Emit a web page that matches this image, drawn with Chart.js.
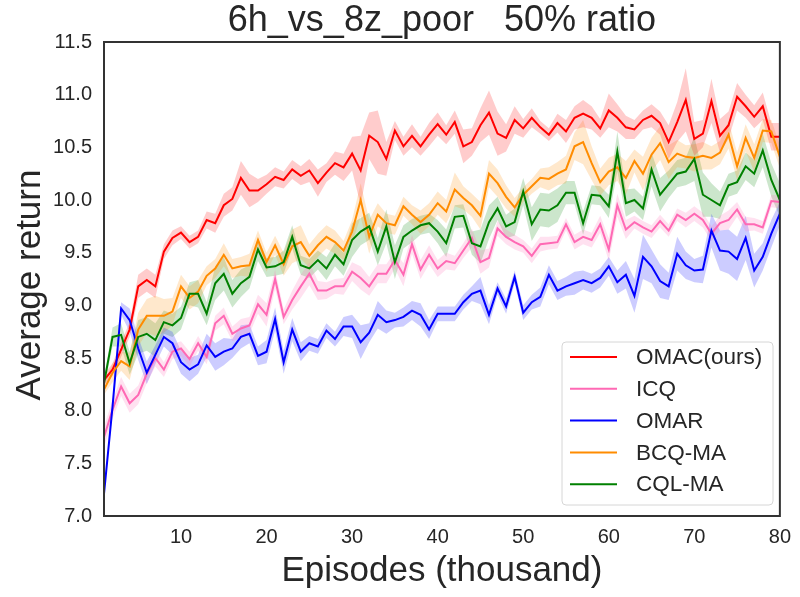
<!DOCTYPE html>
<html>
<head>
<meta charset="utf-8">
<script src="https://cdn.jsdelivr.net/npm/chart.js@4.4.1/dist/chart.umd.min.js"></script>
<style>
  body { margin: 0; background: #fff; }
  canvas { display: block; }
</style>
</head>
<body>
<canvas id="myChart" width="800" height="597"></canvas>
<script>
const episodes = [1, 2, 3, 4, 5, 6, 7, 8, 9, 10, 11, 12, 13, 14, 15, 16, 17, 18, 19, 20,
  21, 22, 23, 24, 25, 26, 27, 28, 29, 30, 31, 32, 33, 34, 35, 36, 37, 38, 39, 40,
  41, 42, 43, 44, 45, 46, 47, 48, 49, 50, 51, 52, 53, 54, 55, 56, 57, 58, 59, 60,
  61, 62, 63, 64, 65, 66, 67, 68, 69, 70, 71, 72, 73, 74, 75, 76, 77, 78, 79, 80]
const xTicks = [10, 20, 30, 40, 50, 60, 70, 80]
const yTicks = [7.0, 7.5, 8.0, 8.5, 9.0, 9.5, 10.0, 10.5, 11.0, 11.5]
const labels = ['OMAC(ours)', 'ICQ', 'OMAR', 'BCQ-MA', 'CQL-MA']

const omac = [8.29, 8.39, 8.58, 8.77, 9.18, 9.24, 9.18, 9.51, 9.64, 9.69,
  9.60, 9.65, 9.81, 9.78, 9.95, 10.01, 10.21, 10.09, 10.09, 10.15,
  10.22, 10.19, 10.29, 10.23, 10.28, 10.16, 10.26, 10.35, 10.31, 10.44,
  10.28, 10.61, 10.55, 10.39, 10.66, 10.51, 10.61, 10.51, 10.62, 10.72,
  10.62, 10.74, 10.51, 10.55, 10.71, 10.83, 10.63, 10.59, 10.76, 10.68,
  10.78, 10.69, 10.62, 10.73, 10.65, 10.78, 10.82, 10.78, 10.68, 10.85,
  10.78, 10.69, 10.67, 10.76, 10.80, 10.73, 10.55, 10.74, 10.95, 10.58,
  10.63, 10.94, 10.61, 10.71, 10.98, 10.89, 10.79, 10.89, 10.60, 10.60]
const omacStd = [0.05, 0.06, 0.07, 0.07, 0.11, 0.11, 0.11, 0.07, 0.07, 0.06,
  0.06, 0.06, 0.08, 0.09, 0.11, 0.11, 0.16, 0.16, 0.11, 0.09,
  0.09, 0.08, 0.09, 0.09, 0.11, 0.13, 0.09, 0.11, 0.13, 0.16,
  0.33, 0.22, 0.30, 0.16, 0.09, 0.09, 0.11, 0.09, 0.11, 0.11,
  0.09, 0.11, 0.16, 0.13, 0.16, 0.21, 0.21, 0.13, 0.13, 0.09,
  0.09, 0.06, 0.06, 0.09, 0.11, 0.11, 0.13, 0.11, 0.09, 0.16,
  0.13, 0.11, 0.09, 0.09, 0.11, 0.11, 0.16, 0.19, 0.30, 0.16,
  0.13, 0.21, 0.16, 0.13, 0.13, 0.11, 0.11, 0.13, 0.13, 0.13]

const icq = [7.75, 8.01, 8.23, 8.07, 8.15, 8.35, 8.50, 8.39, 8.56, 8.59,
  8.49, 8.64, 8.51, 8.83, 8.90, 8.73, 8.78, 8.81, 9.01, 8.91,
  9.25, 8.89, 9.05, 9.18, 9.30, 9.14, 9.14, 9.18, 9.18, 9.32,
  9.26, 9.18, 9.30, 9.30, 9.43, 9.29, 9.58, 9.34, 9.48, 9.35,
  9.42, 9.40, 9.52, 9.64, 9.41, 9.45, 9.73, 9.65, 9.60, 9.56,
  9.47, 9.58, 9.59, 9.60, 9.77, 9.60, 9.65, 9.62, 9.77, 9.53,
  9.95, 9.72, 9.79, 9.74, 9.70, 9.80, 9.71, 9.86, 9.81, 9.87,
  9.81, 9.68, 9.78, 9.81, 9.91, 9.77, 9.77, 9.74, 9.99, 9.98]
const icqStd = [0.10, 0.09, 0.09, 0.09, 0.09, 0.09, 0.08, 0.07, 0.07, 0.07,
  0.07, 0.07, 0.07, 0.07, 0.08, 0.07, 0.09, 0.08, 0.09, 0.11,
  0.09, 0.07, 0.09, 0.11, 0.11, 0.09, 0.08, 0.07, 0.08, 0.09,
  0.11, 0.09, 0.09, 0.09, 0.08, 0.11, 0.09, 0.09, 0.09, 0.08,
  0.08, 0.07, 0.07, 0.09, 0.11, 0.09, 0.07, 0.07, 0.07, 0.06,
  0.07, 0.07, 0.06, 0.06, 0.06, 0.07, 0.07, 0.07, 0.08, 0.11,
  0.11, 0.09, 0.06, 0.06, 0.06, 0.06, 0.06, 0.06, 0.07, 0.07,
  0.07, 0.07, 0.07, 0.09, 0.07, 0.07, 0.06, 0.06, 0.06, 0.06]

const omar = [7.21, 8.04, 8.97, 8.86, 8.59, 8.36, 8.53, 8.70, 8.64, 8.46,
  8.39, 8.44, 8.62, 8.51, 8.56, 8.59, 8.70, 8.73, 8.52, 8.56,
  8.87, 8.46, 8.77, 8.56, 8.64, 8.61, 8.76, 8.68, 8.80, 8.80,
  8.65, 8.74, 8.91, 8.84, 8.86, 8.89, 8.95, 8.91, 8.77, 8.92,
  8.92, 8.92, 9.03, 9.11, 9.14, 8.91, 9.16, 8.99, 9.27, 8.93,
  9.03, 9.08, 9.29, 9.14, 9.18, 9.21, 9.24, 9.21, 9.26, 9.37,
  9.22, 9.29, 9.09, 9.46, 9.37, 9.23, 9.18, 9.49, 9.38, 9.33,
  9.34, 9.71, 9.52, 9.51, 9.44, 9.64, 9.33, 9.46, 9.68, 9.87]
const omarStd = [0.02, 0.05, 0.06, 0.11, 0.11, 0.11, 0.09, 0.09, 0.11, 0.11,
  0.11, 0.09, 0.11, 0.13, 0.13, 0.09, 0.11, 0.09, 0.09, 0.11,
  0.11, 0.11, 0.11, 0.09, 0.07, 0.07, 0.07, 0.07, 0.09, 0.11,
  0.16, 0.09, 0.13, 0.11, 0.07, 0.09, 0.09, 0.11, 0.09, 0.07,
  0.07, 0.07, 0.07, 0.07, 0.13, 0.09, 0.06, 0.07, 0.06, 0.07,
  0.07, 0.09, 0.09, 0.09, 0.09, 0.11, 0.09, 0.09, 0.09, 0.09,
  0.11, 0.13, 0.16, 0.21, 0.16, 0.16, 0.13, 0.16, 0.13, 0.11,
  0.13, 0.16, 0.19, 0.21, 0.21, 0.21, 0.16, 0.13, 0.13, 0.11]

const bcq = [8.20, 8.36, 8.47, 8.42, 8.77, 8.90, 8.90, 8.90, 8.94, 9.18,
  9.07, 9.13, 9.28, 9.35, 9.48, 9.35, 9.37, 9.38, 9.62, 9.41,
  9.57, 9.39, 9.56, 9.60, 9.47, 9.57, 9.65, 9.60, 9.52, 9.70,
  10.00, 9.65, 9.86, 9.78, 9.76, 9.94, 9.86, 9.79, 9.86, 9.97,
  9.89, 10.10, 10.02, 9.95, 9.85, 10.25, 10.16, 10.03, 9.93, 10.05,
  10.13, 10.21, 10.20, 10.25, 10.29, 10.51, 10.55, 10.35, 10.17, 10.27,
  10.31, 10.21, 10.37, 10.25, 10.43, 10.54, 10.36, 10.44, 10.41, 10.40,
  10.42, 10.40, 10.45, 10.62, 10.32, 10.59, 10.40, 10.66, 10.65, 10.41]
const bcqStd = [0.05, 0.09, 0.09, 0.13, 0.16, 0.16, 0.19, 0.16, 0.13, 0.11,
  0.11, 0.11, 0.09, 0.09, 0.11, 0.09, 0.09, 0.11, 0.09, 0.09,
  0.09, 0.11, 0.16, 0.16, 0.11, 0.11, 0.11, 0.11, 0.09, 0.11,
  0.16, 0.16, 0.11, 0.09, 0.09, 0.09, 0.09, 0.11, 0.11, 0.11,
  0.11, 0.16, 0.11, 0.11, 0.13, 0.13, 0.13, 0.11, 0.09, 0.07,
  0.07, 0.09, 0.11, 0.11, 0.13, 0.13, 0.21, 0.16, 0.13, 0.13,
  0.13, 0.16, 0.11, 0.16, 0.16, 0.16, 0.16, 0.13, 0.11, 0.13,
  0.13, 0.11, 0.11, 0.13, 0.13, 0.13, 0.13, 0.11, 0.11, 0.11]

const cql = [8.26, 8.70, 8.72, 8.45, 8.70, 8.73, 8.67, 8.84, 8.81, 8.88,
  9.11, 9.11, 8.92, 9.21, 9.30, 9.11, 9.21, 9.27, 9.53, 9.36,
  9.37, 9.41, 9.65, 9.38, 9.35, 9.43, 9.35, 9.48, 9.39, 9.62,
  9.70, 9.75, 9.51, 9.75, 9.41, 9.65, 9.71, 9.76, 9.78, 9.70,
  9.59, 9.84, 9.85, 9.59, 9.56, 9.79, 9.92, 9.75, 9.79, 10.08,
  9.77, 9.91, 9.90, 9.95, 10.07, 10.07, 9.78, 10.05, 10.04, 9.94,
  10.46, 9.97, 10.00, 9.92, 10.29, 10.05, 10.15, 10.25, 10.27, 10.39,
  10.05, 10.00, 9.95, 10.14, 10.17, 10.32, 10.25, 10.47, 10.19, 10.00]
const cqlStd = [0.05, 0.09, 0.11, 0.11, 0.16, 0.16, 0.16, 0.11, 0.11, 0.11,
  0.11, 0.13, 0.11, 0.16, 0.16, 0.13, 0.13, 0.11, 0.11, 0.09,
  0.09, 0.11, 0.11, 0.09, 0.09, 0.09, 0.11, 0.11, 0.11, 0.16,
  0.13, 0.13, 0.13, 0.16, 0.16, 0.11, 0.11, 0.09, 0.09, 0.11,
  0.13, 0.11, 0.11, 0.11, 0.16, 0.16, 0.11, 0.11, 0.13, 0.13,
  0.16, 0.16, 0.16, 0.16, 0.11, 0.11, 0.11, 0.09, 0.09, 0.11,
  0.19, 0.13, 0.11, 0.11, 0.16, 0.16, 0.13, 0.13, 0.13, 0.21,
  0.21, 0.16, 0.13, 0.11, 0.11, 0.13, 0.13, 0.16, 0.16, 0.16]

const means = [omac, icq, omar, bcq, cql]
const stds = [omacStd, icqStd, omarStd, bcqStd, cqlStd]
const lineColors = ['#ff0000', '#ff69b4', '#0000ff', '#ff8c00', '#008000']
const bandColors = ['rgba(255,0,0,0.2)', 'rgba(255,105,180,0.2)', 'rgba(0,0,255,0.2)',
  'rgba(255,140,0,0.2)', 'rgba(0,128,0,0.2)']

const textColor = '#262626'
const fontFamily = '"Liberation Sans", Arial, sans-serif'

const pts = (ys, sign, sd) => episodes.map((x, i) => ({ x: x, y: ys[i] + (sd ? sign * sd[i] : 0) }))

const datasets = []
means.forEach((m, k) => {
  datasets.push({
    label: labels[k] + ' upper',
    data: pts(m, 1, stds[k]),
    borderWidth: 0,
    pointRadius: 0,
    backgroundColor: bandColors[k],
    fill: '+1',
    order: 20
  })
  datasets.push({
    label: labels[k] + ' lower',
    data: pts(m, -1, stds[k]),
    borderWidth: 0,
    pointRadius: 0,
    fill: false,
    order: 20
  })
})
means.forEach((m, k) => {
  datasets.push({
    label: labels[k],
    data: pts(m, 0),
    borderColor: lineColors[k],
    borderWidth: 2,
    pointRadius: 0,
    fill: false,
    tension: 0,
    order: 10 - k
  })
})

const decorations = {
  id: 'decorations',
  afterDraw(chart) {
    const { ctx, chartArea: a } = chart
    ctx.save()
    // frame
    ctx.strokeStyle = '#333333'
    ctx.lineWidth = 2
    ctx.strokeRect(a.left, a.top, a.right - a.left, a.bottom - a.top)

    ctx.fillStyle = textColor
    ctx.textAlign = 'center'
    ctx.textBaseline = 'middle'
    ctx.font = '36px ' + fontFamily
    ctx.fillText('6h_vs_8z_poor   50% ratio', (a.left + a.right) / 2, 21)
    ctx.font = '35px ' + fontFamily
    ctx.fillText('Episodes (thousand)', (a.left + a.right) / 2, 571)
    ctx.save()
    ctx.translate(30, (a.top + a.bottom) / 2 + 6)
    ctx.rotate(-Math.PI / 2)
    ctx.fillText('Average return', 0, 0)
    ctx.restore()

    // legend
    const bx = 562, by = 342, bw = 211, bh = 163
    ctx.beginPath()
    ctx.roundRect(bx, by, bw, bh, 4)
    ctx.fillStyle = 'rgba(255,255,255,0.8)'
    ctx.fill()
    ctx.strokeStyle = '#d6d6d6'
    ctx.lineWidth = 1
    ctx.stroke()
    ctx.font = '22.5px ' + fontFamily
    ctx.textAlign = 'left'
    labels.forEach((lab, k) => {
      const y = 357 + k * 31.8
      ctx.strokeStyle = lineColors[k]
      ctx.lineWidth = 2
      ctx.beginPath()
      ctx.moveTo(570, y)
      ctx.lineTo(617, y)
      ctx.stroke()
      ctx.fillStyle = textColor
      ctx.fillText(lab, 636, y + 1)
    })
    ctx.restore()
  }
}

new Chart(document.getElementById('myChart'), {
  type: 'line',
  data: { datasets: datasets },
  options: {
    responsive: false,
    animation: false,
    layout: { padding: { top: 42, right: 16, left: 0, bottom: 0 } },
    plugins: {
      legend: { display: false },
      tooltip: { enabled: false },
      filler: { propagate: false }
    },
    scales: {
      x: {
        type: 'linear',
        min: 1,
        max: 80,
        grid: { display: false, drawTicks: false },
        border: { display: false },
        afterBuildTicks: (scale) => { scale.ticks = xTicks.map(v => ({ value: v })) },
        afterFit: (scale) => { scale.height = 81 },
        ticks: {
          padding: 9,
          color: textColor,
          font: { size: 20, family: fontFamily },
          maxRotation: 0
        }
      },
      y: {
        min: 7,
        max: 11.5,
        grid: { display: false, drawTicks: false },
        border: { display: false },
        afterBuildTicks: (scale) => { scale.ticks = yTicks.map(v => ({ value: v })) },
        afterFit: (scale) => { scale.width = 104 },
        ticks: {
          padding: 12,
          color: textColor,
          font: { size: 20, family: fontFamily },
          callback: (v) => Number(v).toFixed(1)
        }
      }
    }
  },
  plugins: [decorations]
})
</script>
</body>
</html>
